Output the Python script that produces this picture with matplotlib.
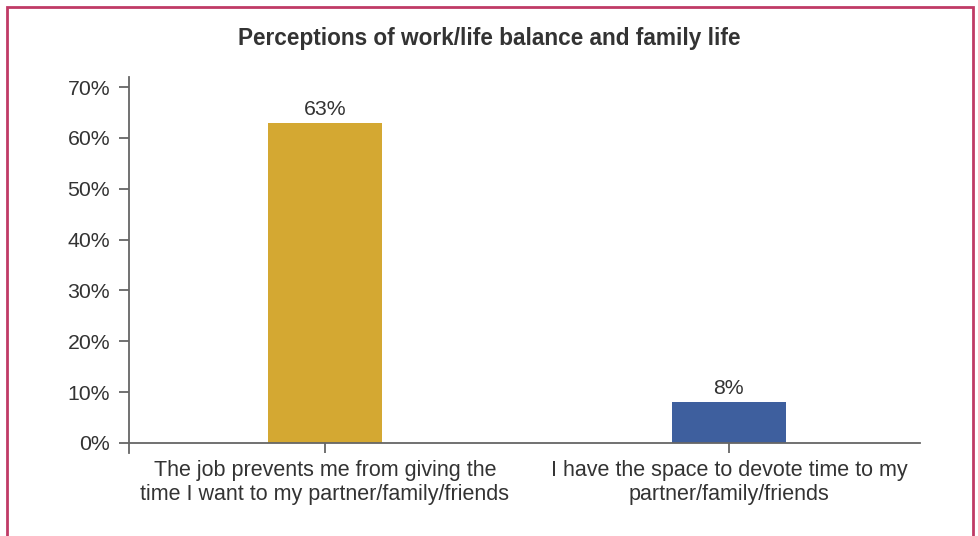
import matplotlib
matplotlib.use("Agg")
import matplotlib.pyplot as plt
from matplotlib.patches import Rectangle

plt.rcParams['font.family'] = ['Liberation Sans', 'DejaVu Sans']

categories = ["The job prevents me from giving the\ntime I want to my partner/family/friends",
              "I have the space to devote time to my\npartner/family/friends"]
values = [63, 8]
colors = ["#D4A832", "#3E5F9E"]
yticks = [0, 10, 20, 30, 40, 50, 60, 70]

text_color = "#333333"
axis_color = "#666666"

fig = plt.figure(figsize=(9.79, 5.36), dpi=100)
ax = fig.add_axes([129 / 979, 1 - 453 / 536, (920 - 129) / 979, (453 - 77) / 536])

x = range(len(categories))
ax.bar(x, values, width=0.282, color=colors, zorder=2)
for xi, v in zip(x, values):
    ax.text(xi, v + 0.8, f"{v}%", ha="center", va="bottom", fontsize=15.3, color=text_color)

ax.set_xlim(-0.485, 1.473)
ax.set_ylim(-2, 72)
ax.set_yticks(yticks)
ax.set_yticklabels([f"{t}%" for t in yticks])
ax.set_xticks(list(x))
ax.set_xticklabels(categories, linespacing=1.3)

for s in ["top", "right"]:
    ax.spines[s].set_visible(False)
ax.spines["bottom"].set_position(("data", 0))
ax.spines["left"].set_color(axis_color)
ax.spines["bottom"].set_color(axis_color)
ax.spines["left"].set_linewidth(1.3)
ax.spines["bottom"].set_linewidth(1.3)
ax.tick_params(axis="both", colors=axis_color, width=1.3, length=7.5,
               labelcolor=text_color)
ax.tick_params(axis="y", labelsize=15.3, pad=6)
ax.tick_params(axis="x", labelsize=15.5, pad=5)

fig.text(0.5, 1 - 38 / 536, "Perceptions of work/life balance and family life",
         ha="center", va="center", fontsize=16.3, fontweight="bold", color=text_color)

# frame around the whole figure
fig.patches.append(Rectangle((7 / 979, -0.05), (973 - 7) / 979, 1.05 - 7 / 536,
                             transform=fig.transFigure, fill=False,
                             edgecolor="#C03A66", linewidth=2))

fig.savefig("out.png", dpi=100)
